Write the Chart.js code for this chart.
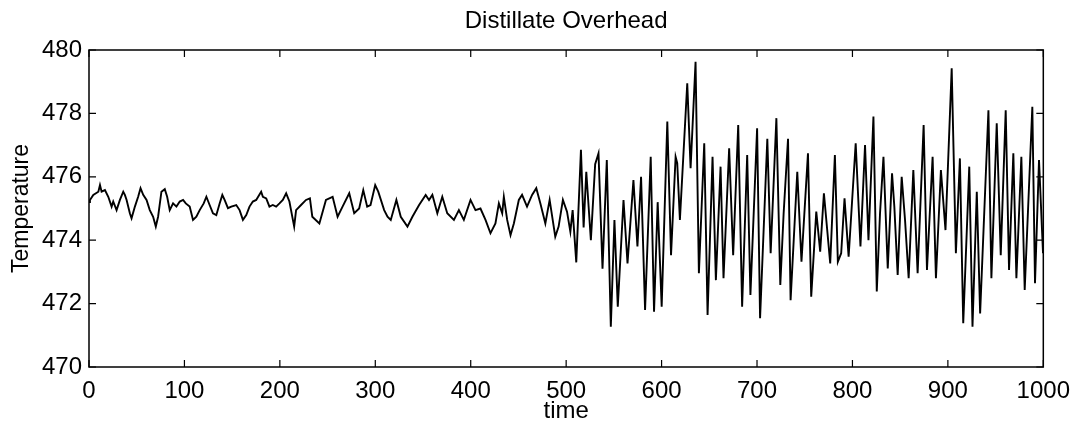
<!DOCTYPE html>
<html>
<head>
<meta charset="utf-8">
<script src="https://cdn.jsdelivr.net/npm/chart.js@4/dist/chart.umd.min.js"></script>
<style>
  html, body { margin: 0; padding: 0; background: #fff; }
  #wrap { width: 1080px; height: 433px; }
</style>
</head>
<body>
<div id="wrap"><canvas id="plot" width="1080" height="433"></canvas></div>
<script>
// time samples (peaks, troughs and turning points)
const timeValues = [
  0, 1, 4.5, 9.8, 11.5, 13.2, 16.7, 20.2, 23.7, 25.4, 28.9, 32.4, 35.9, 37.6, 39.4, 42.8, 44.6, 48.1, 51.5, 54,
  56.8, 60.3, 63.7, 67.2, 70, 72.4, 75.9, 79.4, 81.9, 84.6, 88.1, 91.6, 95.1, 98.6, 101.4, 105.5, 109, 112.5,
  116, 120.2, 123, 126.4, 129.9, 133.4, 136.9, 139.7, 142.1, 145.6, 149.1, 154.3, 157.8, 161.3, 164.8, 168.2,
  171.7, 175.2, 180.4, 182.2, 185.7, 189.1, 192.6, 196.1, 199.6, 203.1, 206.6, 210, 215,
  217, 222.2, 227.4, 231.5, 234, 241.4, 248.3, 255.3, 260.5, 265.7, 272.7, 277.9,
  283.1, 287.4, 291.5, 295, 299.9, 303.1, 309.3, 312.8, 316.2, 322.1, 326.7, 333.7, 338.9, 345.9, 352.8, 356.3,
  359.8, 365, 370.2, 375.4, 382.4, 387.6, 392.8, 399.8, 405, 410.2, 415.5, 420.7, 425.9, 429.5, 433, 434.7,
  438.2, 441.7, 445.2, 450.4, 453.8, 459, 464.3, 468.7, 473, 478.2, 482.7, 488.6, 492.1, 496.6, 500.9, 504.4,
  506.8, 510.6, 515.5, 518.3, 521.1, 525.9, 530.4, 533.9, 538.1, 542.6, 546.8, 550.6, 554.1, 560.1, 564.3,
  570.5, 574.7, 578.5, 582.7, 588.6, 592.1, 595.9, 600.1, 606, 609.9, 614.7, 616.4, 619.2, 626.9, 630.4, 635.6,
  639.1, 644.7, 648.2, 653.4, 656.9, 661.8, 664.9, 670.8, 675, 680.3, 684.4, 689.7, 693.1, 700.1, 703.2, 710.8,
  714.3, 720.3, 724.4, 727.9, 732.5, 735.2, 742.2, 746.6, 753.4, 756.8, 762.1, 766.2, 770.1, 776.7, 781.6,
  784.7, 788.2, 791.7, 796, 803.4, 808.4, 813.2, 816.8, 822, 825.5, 828.9, 832.5, 837, 841.5, 843.9, 847.4,
  851.6, 855.1, 858.9, 863.8, 868.3, 874.6, 878.1, 884, 887.5, 892.7, 897.5, 904, 908.4, 912.6, 916.1, 922.4,
  925.8, 930.3, 933.8, 942.5, 945.6, 951.2, 955.4, 960.6, 964.1, 968.6, 971.8, 977, 980.5, 988.5, 991.3,
  995.5, 999.7
];

const tempValues = [
  475.2, 475.27, 475.43, 475.53, 475.74, 475.53, 475.58, 475.37, 475.06, 475.22, 474.95, 475.27, 475.53, 475.43,
  475.27, 474.85, 474.69, 475.06, 475.37, 475.64, 475.43, 475.27, 474.95, 474.74, 474.43, 474.74, 475.53, 475.61,
  475.37, 474.95, 475.16, 475.06, 475.22, 475.27, 475.16, 475.06, 474.64, 474.74, 474.95, 475.16, 475.37, 475.11,
  474.85, 474.79, 475.16, 475.43, 475.27, 475.01, 475.06, 475.11, 474.95, 474.64, 474.79, 475.06, 475.22, 475.27,
  475.53, 475.37, 475.32, 475.06, 475.11, 475.06, 475.16, 475.27, 475.48, 475.22, 474.43,
  474.95, 475.11, 475.27, 475.32, 474.74, 474.53, 475.27, 475.37, 474.74, 475.06, 475.48, 474.85, 475.0, 475.58,
  475.06, 475.11, 475.74, 475.53, 474.95, 474.74, 474.64, 475.27, 474.74, 474.43, 474.74, 475.11, 475.43, 475.27,
  475.43, 474.85, 475.37, 474.85, 474.64, 474.95, 474.64, 475.27, 474.95, 475.0, 474.64, 474.22, 474.53, 475.16,
  474.85, 475.37, 474.64, 474.16, 474.53, 475.27, 475.43, 475.06, 475.43, 475.64, 475.16, 474.53, 475.27, 474.11,
  474.43, 475.27, 474.9, 474.27, 474.95, 473.3, 476.85, 474.4, 476.16, 474.0, 476.4, 476.74, 473.1, 476.53,
  471.27, 474.64, 471.9, 475.27, 473.27, 475.9, 473.8, 476.0, 471.8, 476.63, 471.74, 475.2, 471.9, 477.74, 473.53,
  476.63, 476.43, 474.64, 478.95, 476.27, 479.63, 472.96, 477.06, 471.64, 476.63, 472.74, 476.32, 472.8, 476.9,
  473.53, 477.63, 471.9, 476.69, 472.27, 477.53, 471.54, 477.2, 473.59, 477.85, 472.59, 474.85, 477.2, 472.11,
  476.16, 473.32, 476.74, 472.22, 474.9, 473.64, 475.48, 473.27, 476.69, 473.32, 473.59, 475.32, 473.48, 477.06,
  473.8, 477.0, 474.0, 477.9, 472.38, 474.85, 476.63, 473.11, 476.11, 475.06, 472.9, 476.0, 474.64, 472.8,
  476.21, 472.96, 477.63, 473.06, 476.63, 472.8, 476.21, 474.32, 479.42, 473.59, 476.58, 471.38, 476.32, 471.27,
  475.53, 471.69, 478.1, 472.8, 477.69, 473.53, 478.1, 473.06, 476.74, 472.8, 476.63, 472.43, 478.21, 472.64,
  476.53, 473.59
];

const xTicks = [0, 100, 200, 300, 400, 500, 600, 700, 800, 900, 1000];
const yTicks = [470, 472, 474, 476, 478, 480];
const chartTitle = 'Distillate Overhead';

const FONT = "'Liberation Sans', Arial, Helvetica, sans-serif";

// box round the plot with matlab-style inward ticks on all four sides,
// title centred over the plot box (not over the whole canvas)
const frameTicks = {
  id: 'frameTicks',
  afterDraw(chart) {
    const { ctx, chartArea: a, scales } = chart;
    const len = 7;
    ctx.save();
    ctx.strokeStyle = '#000';
    ctx.lineWidth = 1.5;
    ctx.strokeRect(a.left, a.top, a.right - a.left, a.bottom - a.top);
    ctx.lineWidth = 1.2;
    ctx.beginPath();
    xTicks.forEach(v => {
      const px = scales.x.getPixelForValue(v);
      ctx.moveTo(px, a.bottom); ctx.lineTo(px, a.bottom - len);
      ctx.moveTo(px, a.top); ctx.lineTo(px, a.top + len);
    });
    yTicks.forEach(v => {
      const py = scales.y.getPixelForValue(v);
      ctx.moveTo(a.left, py); ctx.lineTo(a.left + len, py);
      ctx.moveTo(a.right, py); ctx.lineTo(a.right - len, py);
    });
    ctx.stroke();

    ctx.fillStyle = '#000';
    ctx.font = `24px ${FONT}`;
    ctx.textAlign = 'center';
    ctx.textBaseline = 'middle';
    ctx.fillText(chartTitle, (a.left + a.right) / 2, 21);
    ctx.restore();
  }
};

const points = timeValues.map((t, i) => ({ x: t, y: tempValues[i] }));

new Chart(document.getElementById('plot'), {
  type: 'line',
  data: {
    datasets: [{
      data: points,
      borderColor: '#000',
      borderWidth: 1.9,
      pointRadius: 0,
      tension: 0,
      fill: false
    }]
  },
  options: {
    responsive: false,
    animation: false,
    layout: { padding: { left: 0, right: 34, top: 50, bottom: 0 } },
    plugins: {
      legend: { display: false },
      tooltip: { enabled: false },
      title: { display: false }
    },
    scales: {
      x: {
        type: 'linear',
        min: 0,
        max: 1000,
        afterFit(scale) { scale.height = 66; },
        afterBuildTicks(scale) { scale.ticks = xTicks.map(v => ({ value: v })); },
        grid: { display: false, drawTicks: false },
        border: { display: false },
        ticks: {
          color: '#000', padding: 10, maxRotation: 0,
          font: { family: FONT, size: 24 },
          callback: v => String(v)
        },
        title: {
          display: true,
          text: 'time',
          color: '#000',
          font: { family: FONT, size: 24 },
          padding: { top: 0, bottom: 7 }
        }
      },
      y: {
        min: 470,
        max: 480,
        afterFit(scale) { scale.width = 89; },
        afterBuildTicks(scale) { scale.ticks = yTicks.map(v => ({ value: v })); },
        grid: { display: false, drawTicks: false },
        border: { display: false },
        ticks: {
          color: '#000', padding: 7,
          font: { family: FONT, size: 24 },
          callback: v => String(v)
        },
        title: {
          display: true,
          text: 'Temperature',
          color: '#000',
          font: { family: FONT, size: 23 },
          padding: { top: 8, bottom: 0 }
        }
      }
    }
  },
  plugins: [frameTicks]
});
</script>
</body>
</html>
